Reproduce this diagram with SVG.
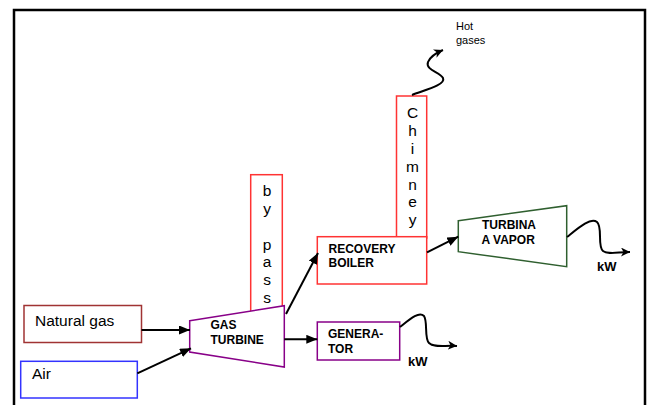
<svg xmlns="http://www.w3.org/2000/svg" width="651" height="405" viewBox="0 0 651 405">
<style>
text{font-family:"Liberation Sans",Arial,sans-serif;fill:#000}
.reg{font-size:15.5px}
.b{font-size:12px;font-weight:bold}
.kw{font-size:13px;font-weight:bold}
.sm{font-size:11px}
.vert{font-size:15.5px;text-anchor:middle}
.box{fill:#fff;stroke-width:1.5}
.red{stroke:#ff3333}
.ln{fill:none;stroke:#000;stroke-width:2}
</style>
<defs>
<marker id="ah" markerUnits="userSpaceOnUse" markerWidth="12" markerHeight="10" refX="11" refY="4.5" orient="auto">
<path d="M0,0 L11,4.5 L0,9 z" fill="#000"/>
</marker>
<marker id="ah2" markerUnits="userSpaceOnUse" markerWidth="11" markerHeight="10" refX="9" refY="4.5" orient="auto">
<path d="M0,0 L9,4.5 L0,9 L2.5,4.5 z" fill="#000"/>
</marker>
</defs>
<rect width="651" height="405" fill="#fff"/>
<path d="M14,420 V10 H645 V420" fill="none" stroke="#000" stroke-width="2.5"/>

<g id="bypass">
<rect class="box red" x="250.7" y="174.7" width="31.6" height="138"/>
<text class="vert" x="267" y="196">b</text>
<text class="vert" x="267" y="214">y</text>
<text class="vert" x="267" y="249.5">p</text>
<text class="vert" x="267" y="267">a</text>
<text class="vert" x="267" y="285">s</text>
<text class="vert" x="267" y="303">s</text>
</g>

<g id="chimney">
<rect class="box red" x="396.5" y="96" width="30.2" height="142"/>
<text class="vert" x="412.5" y="118">C</text>
<text class="vert" x="412.5" y="136">h</text>
<text class="vert" x="412.5" y="154">i</text>
<text class="vert" x="412.5" y="172">m</text>
<text class="vert" x="412.5" y="189.5">n</text>
<text class="vert" x="412.5" y="207">e</text>
<text class="vert" x="412.5" y="224.5">y</text>
</g>

<g id="natural-gas">
<rect class="box" x="24" y="305.5" width="117.5" height="37" stroke="#a03333"/>
<text class="reg" x="35" y="326">Natural gas</text>
</g>

<g id="air">
<rect class="box" x="20.7" y="361.3" width="116.6" height="36.7" stroke="#3333ff"/>
<text class="reg" x="32" y="379">Air</text>
</g>

<g id="gas-turbine">
<path class="box" d="M189.7,320.7 L284.3,305.7 L284.3,367 L189.7,352 z" stroke="#880088"/>
<text class="b" x="210.5" y="329">GAS</text>
<text class="b" x="210.5" y="344">TURBINE</text>
</g>

<g id="recovery-boiler">
<rect class="box red" x="317.3" y="236.7" width="109.4" height="47.3"/>
<text class="b" x="328.5" y="253.3">RECOVERY</text>
<text class="b" x="328.5" y="267">BOILER</text>
</g>

<g id="generator">
<rect class="box" x="317.3" y="322" width="82.4" height="38" stroke="#880088"/>
<text class="b" x="328" y="337.5">GENERA-</text>
<text class="b" x="328" y="352.5">TOR</text>
</g>

<g id="turbina-a-vapor">
<path class="box" d="M458.3,220.7 L566.7,205.7 L566.7,266.7 L458.3,251.7 z" stroke="#2f5f2f"/>
<text class="b" x="482" y="229">TURBINA</text>
<text class="b" x="481.5" y="243.5">A VAPOR</text>
</g>

<g id="labels">
<text class="sm" x="456" y="29.5">Hot</text>
<text class="sm" x="456" y="43.5">gases</text>
<text class="kw" x="408" y="366">kW</text>
<text class="kw" x="597" y="271">kW</text>
</g>

<g id="connectors">
<line class="ln" x1="141.5" y1="330" x2="190" y2="330" marker-end="url(#ah)"/>
<line class="ln" x1="137.3" y1="373.3" x2="191" y2="348.3" marker-end="url(#ah)"/>
<line class="ln" x1="284.3" y1="339.3" x2="317.3" y2="339.3" marker-end="url(#ah)"/>
<line class="ln" x1="286" y1="314" x2="318" y2="253" marker-end="url(#ah)"/>
<line class="ln" x1="427" y1="252.3" x2="458.3" y2="236.7" marker-end="url(#ah)"/>
<path class="ln" d="M400,327 C410,319 419,311 424,316 C428,322 424,338 429,343 C434,348 445,345 457,346" marker-end="url(#ah2)"/>
<path class="ln" d="M567,237 C577,229 590,217 597,222 C603,227 597,246 603,251 C608,255 618,252 630,252" marker-end="url(#ah2)"/>
<path class="ln" d="M412,95 C425,90 446,85 443,78 C440,72 425,70 428,62 C430,57 436,53 443,50" marker-end="url(#ah2)"/>
</g>
</svg>
